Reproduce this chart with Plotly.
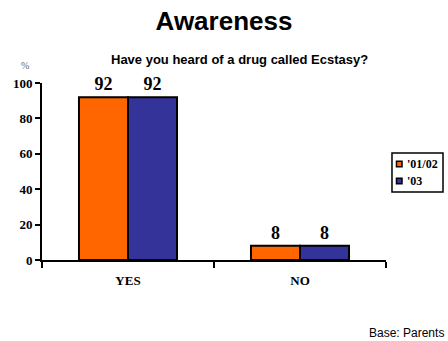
import plotly.graph_objects as go

categories = ["YES", "NO"]
series_names = ["'01/02", "'03"]
values_0102 = [92, 8]
values_03 = [92, 8]
colors = ["#FF6600", "#333399"]
y_ticks = [0, 20, 40, 60, 80, 100]

serif_bold = dict(family="Liberation Serif", color="black", weight="bold")

fig = go.Figure()
for name, vals, col in zip(series_names, [values_0102, values_03], colors):
    fig.add_trace(go.Bar(
        x=categories, y=vals, name=name,
        marker=dict(color=col, line=dict(color="black", width=2)),
        text=[str(v) for v in vals], textposition="outside",
        textfont=dict(size=18, **serif_bold),
        cliponaxis=False, showlegend=False,
    ))

fig.update_layout(
    width=448, height=341,
    margin=dict(l=42, r=62, t=83, b=81, autoexpand=False),
    paper_bgcolor="white", plot_bgcolor="white",
    barmode="group", bargap=0.43, bargroupgap=0,
    showlegend=False,
    title=dict(text="<b>Awareness</b>", x=0.5, xanchor="center", y=0.94, yanchor="middle",
               font=dict(family="Liberation Sans", size=26, color="black")),
)

fig.update_xaxes(
    showline=True, linecolor="black", linewidth=2,
    ticks="outside", ticklen=6, tickwidth=1.5, tickcolor="black",
    tickson="boundaries",
    tickfont=dict(size=13, **serif_bold),
    ticklabelstandoff=7,
    showgrid=False, zeroline=False, fixedrange=True,
)
fig.update_yaxes(
    range=[0, 100], tickvals=y_ticks,
    showline=True, linecolor="black", linewidth=2,
    ticks="outside", ticklen=5, tickwidth=1.5, tickcolor="black",
    tickfont=dict(size=13, **serif_bold),
    showgrid=False, zeroline=False, fixedrange=True,
)

# compact legend box at the right of the plot
fig.add_shape(type="rect", xref="paper", yref="paper",
              x0=1.0174, x1=1.1657, y0=0.384, y1=0.6045,
              line=dict(color="black", width=1.5), fillcolor="white")
key_rows = [(0.5424, 0.5537), (0.4463, 0.4463)]
for (yc, ty), name, col in zip(key_rows, series_names, colors):
    fig.add_shape(type="rect", xref="paper", yref="paper",
                  x0=1.0305, x1=1.0465, y0=yc - 0.016, y1=yc + 0.016,
                  line=dict(color="black", width=1.5), fillcolor=col)
    fig.add_annotation(text=name, xref="paper", yref="paper", x=1.055, y=yc,
                       xanchor="left", yanchor="middle", showarrow=False,
                       font=dict(size=12, **serif_bold))

fig.add_annotation(text="<b>Have you heard of a drug called Ecstasy?</b>",
                   xref="paper", yref="paper", x=0.575, y=1.13,
                   xanchor="center", yanchor="middle", showarrow=False,
                   font=dict(family="Liberation Sans", size=13, color="black"))
fig.add_annotation(text="%", xref="paper", yref="paper", x=-0.05, y=1.1,
                   xanchor="center", yanchor="middle", showarrow=False,
                   font=dict(family="Liberation Serif", size=10, color="#666666"))
fig.add_annotation(text="Base: Parents", xref="paper", yref="paper", x=1.175, y=-0.415,
                   xanchor="right", yanchor="middle", showarrow=False,
                   font=dict(family="Liberation Sans", size=12, color="black"))

fig.write_html("out.html")
